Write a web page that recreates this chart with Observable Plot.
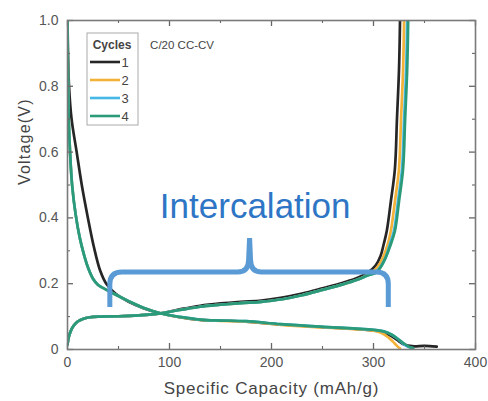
<!DOCTYPE html>
<html>
<head>
<meta charset="utf-8">
<script src="https://cdn.jsdelivr.net/npm/d3@7"></script>
<script src="https://cdn.jsdelivr.net/npm/@observablehq/plot@0.6"></script>
<style>
  html, body { margin: 0; padding: 0; background: #fff; }
  #chart { position: relative; width: 488px; height: 401px; overflow: hidden; }
  svg { font-family: "Liberation Sans", Arial, sans-serif; }
</style>
</head>
<body>
<div id="chart"></div>
<script>
// ---- Data ----
const cycles = ["1", "2", "3", "4"];
const cycleColors = ["#262626", "#f2b23a", "#46b8e6", "#2a9a79"];

// Cycle 1 (black)
const c1DisCap = [0, 0.5, 1.5, 4, 9, 14, 20, 26, 32, 38, 47, 60, 75, 91, 110, 130, 150, 175, 209, 250, 280, 300, 310, 318, 325, 330, 338, 350, 362];
const c1DisV   = [1.0, 0.9, 0.8, 0.7, 0.6, 0.5, 0.4, 0.31, 0.24, 0.2, 0.17, 0.145, 0.125, 0.11, 0.098, 0.09, 0.088, 0.085, 0.076, 0.068, 0.063, 0.058, 0.052, 0.04, 0.025, 0.015, 0.01, 0.011, 0.009];
const c1ChgCap = [0, 1, 3, 6, 10, 15, 22, 32, 50, 70, 91, 110, 130, 150, 170, 190, 209, 230, 251, 270, 284, 295, 302, 307, 310, 313, 317, 321, 323, 325, 326];
const c1ChgV   = [0.015, 0.035, 0.055, 0.072, 0.085, 0.093, 0.098, 0.1, 0.101, 0.104, 0.11, 0.122, 0.133, 0.14, 0.145, 0.149, 0.157, 0.17, 0.187, 0.203, 0.217, 0.235, 0.255, 0.285, 0.32, 0.36, 0.45, 0.55, 0.7, 0.85, 1.0];

// Cycle 2 (orange)
const c2DisCap = [0, 0.2, 0.6, 1.2, 2.5, 4.5, 8, 12, 16, 20, 25, 30, 36, 45, 60, 75, 91, 110, 130, 150, 175, 209, 250, 280, 300, 308, 314, 319, 323, 326];
const c2DisV   = [1.0, 0.9, 0.8, 0.7, 0.6, 0.5, 0.41, 0.34, 0.29, 0.25, 0.215, 0.196, 0.185, 0.17, 0.147, 0.126, 0.11, 0.098, 0.09, 0.087, 0.085, 0.075, 0.067, 0.062, 0.057, 0.05, 0.038, 0.024, 0.011, 0.003];
const c2ChgCap = [0, 1, 3, 6, 10, 15, 22, 32, 50, 70, 91, 110, 130, 150, 170, 190, 209, 230, 251, 270, 284, 295, 300, 305, 310, 314, 317, 321, 325, 327, 329, 330];
const c2ChgV   = [0.015, 0.035, 0.055, 0.072, 0.085, 0.093, 0.098, 0.1, 0.101, 0.104, 0.11, 0.12, 0.13, 0.136, 0.141, 0.145, 0.152, 0.165, 0.182, 0.198, 0.212, 0.228, 0.238, 0.255, 0.285, 0.32, 0.36, 0.45, 0.55, 0.7, 0.85, 1.0];

// Cycle 3 (blue)
const c3DisCap = [0, 0.2, 0.6, 1.2, 2.5, 4.5, 8, 12, 16, 20, 25, 30, 36, 45, 60, 75, 91, 110, 130, 150, 175, 209, 250, 280, 300, 310, 318, 324, 329, 334, 338];
const c3DisV   = [1.0, 0.9, 0.8, 0.7, 0.6, 0.5, 0.41, 0.34, 0.29, 0.25, 0.215, 0.196, 0.185, 0.17, 0.147, 0.126, 0.11, 0.099, 0.091, 0.088, 0.086, 0.077, 0.069, 0.064, 0.06, 0.055, 0.045, 0.032, 0.018, 0.008, 0.004];
const c3ChgCap = [0, 1, 3, 6, 10, 15, 22, 32, 50, 70, 91, 110, 130, 150, 170, 190, 209, 230, 251, 270, 284, 295, 302, 307, 312, 316, 320, 324, 328, 330, 332, 333];
const c3ChgV   = [0.015, 0.035, 0.055, 0.072, 0.085, 0.093, 0.098, 0.1, 0.101, 0.104, 0.11, 0.12, 0.13, 0.136, 0.141, 0.145, 0.152, 0.165, 0.182, 0.198, 0.212, 0.226, 0.235, 0.252, 0.28, 0.32, 0.36, 0.45, 0.55, 0.7, 0.85, 1.0];

// Cycle 4 (green)
const c4DisCap = [0, 0.2, 0.6, 1.2, 2.5, 4.5, 8, 12, 16, 20, 25, 30, 36, 45, 60, 75, 91, 110, 130, 150, 175, 209, 250, 280, 300, 310, 318, 324, 330, 335, 339];
const c4DisV   = [1.0, 0.9, 0.8, 0.7, 0.6, 0.5, 0.41, 0.34, 0.29, 0.25, 0.215, 0.196, 0.185, 0.17, 0.147, 0.126, 0.11, 0.099, 0.091, 0.088, 0.086, 0.077, 0.069, 0.064, 0.06, 0.055, 0.045, 0.032, 0.018, 0.008, 0.004];
const c4ChgCap = [0, 1, 3, 6, 10, 15, 22, 32, 50, 70, 91, 110, 130, 150, 170, 190, 209, 230, 251, 270, 284, 295, 302, 307, 312, 317, 321, 325, 329, 331, 333, 334];
const c4ChgV   = [0.015, 0.035, 0.055, 0.072, 0.085, 0.093, 0.098, 0.1, 0.101, 0.104, 0.11, 0.12, 0.13, 0.136, 0.141, 0.145, 0.152, 0.165, 0.182, 0.198, 0.212, 0.226, 0.232, 0.25, 0.28, 0.32, 0.36, 0.45, 0.55, 0.7, 0.85, 1.0];

// Axes
const xTicks = [0, 100, 200, 300, 400];
const xMinor = [50, 150, 250, 350];
const yTicks = [0, 0.2, 0.4, 0.6, 0.8, 1.0];
const yMinor = [0.1, 0.3, 0.5, 0.7, 0.9];
const xLabel = "Specific Capacity (mAh/g)";
const yLabel = "Voltage(V)";
const legendTitle = "Cycles";
const protocolLabel = "C/20 CC-CV";
const annotationLabel = "Intercalation";

// ---- Build rows ----
const seriesSets = [
  [c1DisCap, c1DisV, c1ChgCap, c1ChgV],
  [c2DisCap, c2DisV, c2ChgCap, c2ChgV],
  [c3DisCap, c3DisV, c3ChgCap, c3ChgV],
  [c4DisCap, c4DisV, c4ChgCap, c4ChgV]
];
const rows = [];
seriesSets.forEach(([dc, dv, cc, cv], i) => {
  dc.forEach((c, j) => rows.push({cycle: cycles[i], seg: cycles[i] + "-d", cap: c, v: dv[j]}));
  cc.forEach((c, j) => rows.push({cycle: cycles[i], seg: cycles[i] + "-c", cap: c, v: cv[j]}));
});

const W = 488, H = 401;
const mL = 67, mR = 13, mT = 20, mB = 52;
const xMajorLen = 6 / ((W - mL - mR) / 400); // px -> data
const yMajorLen = 6 / ((H - mT - mB) / 1);
const tickColor = "#666";

const plot = Plot.plot({
  width: W,
  height: H,
  marginLeft: mL,
  marginRight: mR,
  marginTop: mT,
  marginBottom: mB,
  style: {color: "#555", fontFamily: "'Liberation Sans', Arial, sans-serif", background: "#fff"},
  x: {domain: [0, 400]},
  y: {domain: [0, 1]},
  color: {domain: cycles, range: cycleColors},
  marks: [
    Plot.line(rows, {x: "cap", y: "v", z: "seg", stroke: "cycle", strokeWidth: 2.7, curve: "catmull-rom", clip: true}),
    // inward ticks
    Plot.ruleX(xTicks, {x: d => d, y1: 0, y2: yMajorLen, stroke: tickColor, strokeWidth: 1.3}),
    Plot.ruleX(xTicks, {x: d => d, y1: 1 - yMajorLen, y2: 1, stroke: tickColor, strokeWidth: 1.3}),
    Plot.ruleX(xMinor, {x: d => d, y1: 0, y2: yMajorLen / 2, stroke: tickColor, strokeWidth: 1.1}),
    Plot.ruleX(xMinor, {x: d => d, y1: 1 - yMajorLen / 2, y2: 1, stroke: tickColor, strokeWidth: 1.1}),
    Plot.ruleY(yTicks, {y: d => d, x1: 0, x2: xMajorLen, stroke: tickColor, strokeWidth: 1.3}),
    Plot.ruleY(yTicks, {y: d => d, x1: 400 - xMajorLen, x2: 400, stroke: tickColor, strokeWidth: 1.3}),
    Plot.ruleY(yMinor, {y: d => d, x1: 0, x2: xMajorLen / 2, stroke: tickColor, strokeWidth: 1.1}),
    Plot.ruleY(yMinor, {y: d => d, x1: 400 - xMajorLen / 2, x2: 400, stroke: tickColor, strokeWidth: 1.1}),
    Plot.frame({stroke: "#7a7a7a", strokeWidth: 1.6}),
    Plot.axisX(xTicks, {tickSize: 0, tickPadding: 8, fontSize: 14, label: null, fill: "#555"}),
    Plot.axisY(yTicks, {tickSize: 0, tickPadding: 9, fontSize: 14, label: null, fill: "#555",
      tickFormat: d => d === 0 ? "0" : d.toFixed(1)}),
    Plot.text([xLabel], {text: d => d, frameAnchor: "bottom", dy: 39, fontSize: 17, fill: "#444", lineAnchor: "middle"}),
    Plot.text([yLabel], {text: d => d, frameAnchor: "left", dx: -43, rotate: -90, fontSize: 16, fill: "#444", lineAnchor: "middle"}),
    Plot.text([protocolLabel], {text: d => d, x: 81, y: 0.924, textAnchor: "start", lineAnchor: "middle", fontSize: 11.5, fill: "#444"}),
    Plot.text([annotationLabel], {text: d => d, x: 184, y: 0.401, textAnchor: "middle", lineAnchor: "bottom", fontSize: 35, fill: "#2e76c5"})
  ]
});

const svg = d3.select(plot);
svg.selectAll("text").filter(function () { return this.textContent === xLabel; }).attr("letter-spacing", 0.8);
svg.selectAll("text").filter(function () { return this.textContent === yLabel; }).attr("letter-spacing", 1.2);

// Brace annotation positioned through the plot's scales
const sx = plot.scale("x"), sy = plot.scale("y");
const bxL = sx.apply(42), bxR = sx.apply(315), bxC = sx.apply(179);
const byH = sy.apply(0.234), byB = sy.apply(0.128), byP = sy.apply(0.337);
const r = 12;
const bracePath = [
  `M${bxL},${byB} L${bxL},${byH + r} Q${bxL},${byH} ${bxL + r},${byH}`,
  `L${bxC - r},${byH} Q${bxC - 1},${byH} ${bxC - 1},${byH - r} L${bxC},${byP}`,
  `M${bxC},${byP} L${bxC + 1},${byH - r} Q${bxC + 1},${byH} ${bxC + r},${byH}`,
  `L${bxR - r},${byH} Q${bxR},${byH} ${bxR},${byH + r} L${bxR},${byB}`
].join(" ");
svg.append("path").attr("d", bracePath).attr("fill", "none")
  .attr("stroke", "#5b9bd5").attr("stroke-width", 5).attr("stroke-linejoin", "round");

// Legend box (annotation in pixel space, like the reference inset)
const lg = svg.append("g").attr("font-family", "'Liberation Sans', Arial, sans-serif");
lg.append("rect").attr("x", 87).attr("y", 33).attr("width", 51).attr("height", 92)
  .attr("fill", "#fff").attr("stroke", "#aaa").attr("stroke-width", 1);
lg.append("text").attr("x", 112).attr("y", 49).attr("text-anchor", "middle")
  .attr("font-size", 12).attr("font-weight", "bold").attr("fill", "#444").text(legendTitle);
cycles.forEach((c, i) => {
  const y = 62 + i * 18;
  lg.append("line").attr("x1", 90).attr("x2", 120).attr("y1", y).attr("y2", y)
    .attr("stroke", cycleColors[i]).attr("stroke-width", 2.6);
  lg.append("text").attr("x", 125).attr("y", y + 4.5).attr("font-size", 13)
    .attr("fill", "#444").text(c);
});

document.getElementById("chart").appendChild(plot);
</script>
</body>
</html>
